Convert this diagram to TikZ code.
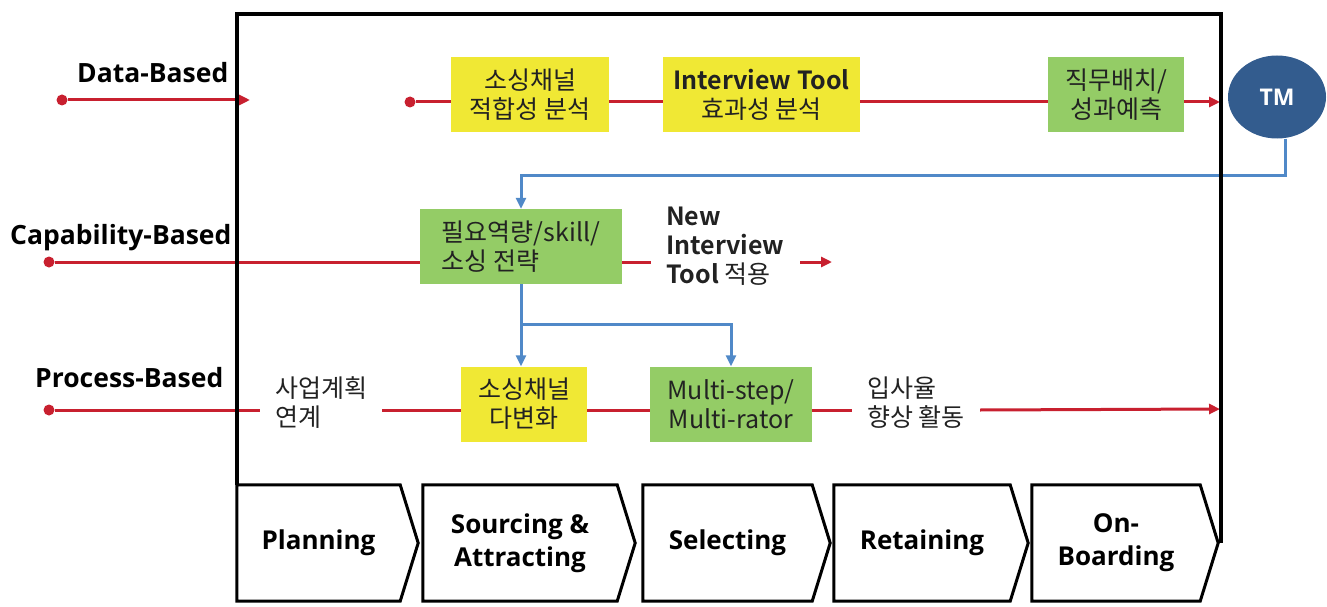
\documentclass[tikz,border=0pt]{standalone}
\usepackage{fontspec}
\setmainfont{Noto Sans CJK KR}[BoldFont={Noto Sans CJK KR Bold}]
\newfontfamily\lat{Open Sans}
\usetikzlibrary{arrows.meta,shapes.geometric,calc}
\definecolor{rd}{HTML}{C8202F}
\definecolor{bl}{HTML}{5089C8}
\definecolor{yl}{HTML}{F0E834}
\definecolor{gr}{HTML}{94CC66}
\definecolor{tmc}{HTML}{335C8E}
\definecolor{kt}{HTML}{222222}
\begin{document}
\begin{tikzpicture}[x=1pt,y=-1pt,
 every node/.style={font=\fontsize{25}{29}\selectfont, text=kt},
 redline/.style={draw=rd, line width=3pt},
 blueline/.style={draw=bl, line width=3pt},
 rarrow/.style={redline, -{Triangle[length=11pt,width=10pt]}},
 barrow/.style={blueline, -{Triangle[length=11pt,width=10pt]}},
 dot/.style={circle, fill=rd, inner sep=0pt, minimum size=11pt},
 ybox/.style={fill=yl, align=center, minimum height=75pt, inner sep=0pt},
 gbox/.style={fill=gr, align=center, minimum height=75pt, inner sep=0pt},
 lbl/.style={font=\lat\fontsize{26.5}{28}\selectfont\bfseries, text=black, anchor=base west, inner sep=0pt},
 txt/.style={align=left, anchor=west, inner xsep=15pt, inner ysep=0pt},
 chev/.style={minimum height=116pt, inner sep=0pt, align=center, text=black,
   font=\lat\fontsize{26}{33}\selectfont\bfseries},
 chevline/.style={draw=black, line width=3pt, line join=miter},
 frame/.style={draw=black, line width=4pt},
]
\useasboundingbox (0,0) rectangle (1327,607);

% left labels
\node[lbl] (lData) at (77,83) {Data-Based};
\node[lbl] (lCap) at (10,244) {Capability-Based};
\node[lbl] (lProc) at (35,387) {Process-Based};

% boxes
\node[ybox, minimum width=158pt] (b1) at (530,94.5) {소싱채널\\적합성 분석};
\node[ybox, minimum width=197pt] (b2) at (761.5,94.5) {\textbf{Interview Tool}\\효과성 분석};
\node[gbox, minimum width=136pt] (b3) at (1116,94.5) {직무배치/\\성과예측};
\node[ellipse, fill=tmc, minimum width=98pt, minimum height=83pt, inner sep=0pt,
      font=\lat\fontsize{23}{26}\selectfont\bfseries, text=white] (tm) at (1277,97) {TM};
\node[gbox, minimum width=202pt, align=left] (b4) at (521,246.5) {필요역량/skill/\\소싱 전략};
\node[ybox, minimum width=126pt] (b5) at (524,404) {소싱채널\\다변화};
\node[gbox, minimum width=162pt] (b6) at (731,404) {Multi-step/\\Multi-rator};

% free texts
\node[txt] (t3) at (651,246) {\textbf{New}\\\textbf{Interview}\\\textbf{Tool} 적용};
\node[txt] (t1) at (260,403) {사업계획\\연계};
\node[txt] (t2) at (852,403) {입사율\\향상 활동};

% dots and free ends
\node[dot] (d1) at (62,100) {};
\coordinate (d1e) at (250,100);
\node[dot] (d2) at (410,102) {};
\coordinate (d2e) at (1220,102);
\node[dot] (c1) at (49,262) {};
\coordinate (c2s) at (800,262);
\coordinate (c2e) at (832,262);
\node[dot] (p1) at (49,410) {};
\coordinate (pe) at (1220,409);

% red lines
\draw[rarrow] (d1) -- (d1e);
\draw[redline] (d2) -- (d2 -| b1.west);
\draw[redline] (b1.east |- d2) -- (b2.west |- d2);
\draw[redline] (b2.east |- d2) -- (b3.west |- d2);
\draw[rarrow] (b3.east |- d2) -- (d2e);

\draw[redline] (c1) -- (c1 -| b4.west);
\draw[redline] (b4.east |- c1) -- (t3.west |- c1);
\draw[rarrow] (c2s) -- (c2e);

\draw[redline] (p1) -- (p1 -| t1.west);
\draw[redline] (t1.east |- p1) -- (b5.west |- p1);
\draw[redline] (b5.east |- p1) -- (b6.west |- p1);
\draw[redline] (b6.east |- p1) -- (t2.west |- p1);
\draw[rarrow] (t2.east |- p1) -- (pe);

% blue lines
\draw[barrow] ([xshift=8pt]tm.south) |- ($(b4.north)+(0,-33)$) -- (b4.north);
\coordinate (split) at ($(b4.south)+(0,40)$);
\draw[blueline] (b4.south) -- (split);
\draw[barrow] (split) -- (split |- b5.north);
\draw[barrow] (split) -| (b6.north);

% chevrons
\node[chev, minimum width=163pt] (ch1) at (318.5,543) {Planning};
\node[chev, minimum width=194pt] (ch2) at (520,543) {Sourcing \&\\Attracting};
\node[chev, minimum width=169pt] (ch3) at (727.5,543) {Selecting};
\node[chev, minimum width=176pt] (ch4) at (922,543) {Retaining};
\node[chev, minimum width=168pt] (ch5) at (1116,543) {On-\\Boarding};
\foreach \n in {ch1,ch2,ch3,ch4,ch5}
  \draw[chevline] (\n.north west) -- (\n.north east) -- ([xshift=18pt]\n.east)
     -- (\n.south east) -- (\n.south west) -- cycle;

% frame
\coordinate (ftr) at (1221,14);
\draw[frame] (ch1.north west) |- (ftr) -- (ftr |- ch5.east);
\end{tikzpicture}
\end{document}
